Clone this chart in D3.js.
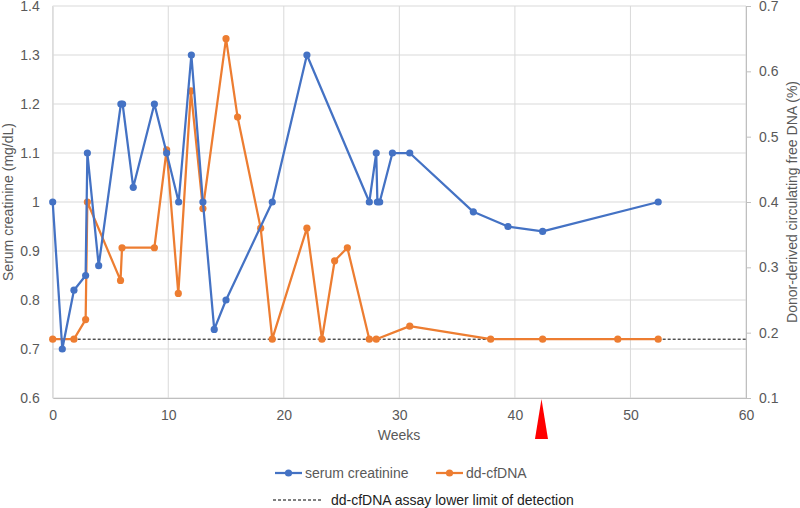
<!DOCTYPE html>
<html>
<head>
<meta charset="utf-8">
<script src="https://cdn.jsdelivr.net/npm/d3@7"></script>
<style>
  body { margin: 0; background: #fff; }
  text { font-family: "Liberation Sans", Arial, sans-serif; fill: #595959; }
</style>
</head>
<body>
<script>
// data
var creatWeeks = [0, 0.83, 1.84, 2.85, 3.0, 3.98, 5.9, 6.05, 6.97, 8.8, 9.86, 10.9, 12.0, 13.0, 13.98, 15.0, 19.0, 22.0, 27.4, 28.0, 28.1, 28.3, 29.4, 30.9, 36.4, 39.4, 42.4, 52.4];
var creatValues = [1.0, 0.70, 0.82, 0.85, 1.1, 0.87, 1.2, 1.2, 1.03, 1.2, 1.1, 1.0, 1.3, 1.0, 0.74, 0.8, 1.0, 1.3, 1.0, 1.1, 1.0, 1.0, 1.1, 1.1, 0.98, 0.95, 0.94, 1.0];
var dnaWeeks = [0, 1.84, 2.85, 3.0, 5.87, 6.0, 8.8, 9.86, 10.87, 11.96, 13.0, 15.0, 16.0, 18.0, 19.0, 22.0, 23.3, 24.4, 25.5, 27.4, 28.0, 30.9, 37.9, 42.4, 48.9, 52.4];
var dnaValues = [0.19, 0.19, 0.22, 0.40, 0.28, 0.33, 0.33, 0.48, 0.26, 0.57, 0.39, 0.65, 0.53, 0.36, 0.19, 0.36, 0.19, 0.31, 0.33, 0.19, 0.19, 0.21, 0.19, 0.19, 0.19, 0.19];
var detectionLimit = 0.19;
var markerWeek = 42.3;
var xTicks = [0, 10, 20, 30, 40, 50, 60];
var leftTicks = [0.6, 0.7, 0.8, 0.9, 1.0, 1.1, 1.2, 1.3, 1.4];
var rightTicks = [0.1, 0.2, 0.3, 0.4, 0.5, 0.6, 0.7];

var w = 800, h = 508;
var blue = "#4472C4", orange = "#ED7D31", grid = "#d9d9d9";

var x = d3.scaleLinear().domain([0, 60]).range([52.7, 746]);
var yL = d3.scaleLinear().domain([0.6, 1.4]).range([398, 6]);
var yR = d3.scaleLinear().domain([0.1, 0.7]).range([398, 6]);

var svg = d3.select("body").append("svg")
  .attr("width", w).attr("height", h);

// gridlines
svg.append("g").selectAll("line").data(leftTicks).enter().append("line")
  .attr("x1", x(0)).attr("x2", x(60))
  .attr("y1", function(d) { return yL(d); }).attr("y2", function(d) { return yL(d); })
  .attr("stroke", grid).attr("stroke-width", 1);
svg.append("g").selectAll("line").data(xTicks).enter().append("line")
  .attr("x1", function(d) { return x(d); }).attr("x2", function(d) { return x(d); })
  .attr("y1", yL(0.6)).attr("y2", yL(1.4))
  .attr("stroke", grid).attr("stroke-width", 1);

// axes
var fmt = function(d) { return d === 1 ? "1" : d3.format(".1f")(d); };
var xAxisG = svg.append("g").attr("transform", "translate(0," + yL(0.6) + ")")
  .call(d3.axisBottom(x).tickValues(xTicks).tickSize(0).tickPadding(12));
var yAxisG = svg.append("g").attr("transform", "translate(" + x(0) + ",0)")
  .call(d3.axisLeft(yL).tickValues(leftTicks).tickFormat(fmt).tickSize(0).tickPadding(13));
var rAxisG = svg.append("g").attr("transform", "translate(" + x(60) + ",0)")
  .call(d3.axisRight(yR).tickValues(rightTicks).tickFormat(d3.format(".1f")).tickSize(5).tickPadding(8));
[xAxisG, yAxisG, rAxisG].forEach(function(g) {
  g.selectAll("text").style("font-size", "14px").attr("fill", "#595959")
    .style("font-family", "Liberation Sans, Arial, sans-serif");
  g.select(".domain").attr("stroke", "#bfbfbf");
  g.selectAll(".tick line").attr("stroke", "#bfbfbf");
});
yAxisG.select(".domain").attr("stroke", grid);

// axis titles
svg.append("text").attr("x", 399).attr("y", 440).attr("text-anchor", "middle")
  .style("font-size", "14px").text("Weeks");
svg.append("text").attr("transform", "translate(13,202) rotate(-90)")
  .attr("text-anchor", "middle").style("font-size", "14px").text("Serum creatinine (mg/dL)");
svg.append("text").attr("transform", "translate(797,202) rotate(-90)")
  .attr("text-anchor", "middle").style("font-size", "14px").text("Donor-derived circulating free DNA (%)");

// detection limit
svg.append("line")
  .attr("x1", x(0)).attr("x2", x(60))
  .attr("y1", yR(detectionLimit)).attr("y2", yR(detectionLimit))
  .attr("stroke", "#000").attr("stroke-width", 1).attr("stroke-dasharray", "3,2");

// series
function drawSeries(xs, ys, yScale, color) {
  var pts = xs.map(function(d, i) { return [d, ys[i]]; });
  svg.append("path").datum(pts)
    .attr("fill", "none").attr("stroke", color).attr("stroke-width", 2.25)
    .attr("stroke-linejoin", "round")
    .attr("d", d3.line().x(function(d) { return x(d[0]); }).y(function(d) { return yScale(d[1]); }));
  svg.append("g").selectAll("circle").data(pts).enter().append("circle")
    .attr("cx", function(d) { return x(d[0]); })
    .attr("cy", function(d) { return yScale(d[1]); })
    .attr("r", 3.6).attr("fill", color);
}
drawSeries(dnaWeeks, dnaValues, yR, orange);
drawSeries(creatWeeks, creatValues, yL, blue);

// red marker triangle
var tx = x(markerWeek);
svg.append("path")
  .attr("d", "M" + tx + ",399 L" + (tx + 6.5) + ",439 L" + (tx - 6.5) + ",439 Z")
  .attr("fill", "#ff0000");

// legend
var legend = svg.append("g");
function legendItem(x0, y0, color, label) {
  legend.append("line").attr("x1", x0).attr("x2", x0 + 27).attr("y1", y0).attr("y2", y0)
    .attr("stroke", color).attr("stroke-width", 2.25);
  legend.append("circle").attr("cx", x0 + 13.5).attr("cy", y0).attr("r", 3.6).attr("fill", color);
  legend.append("text").attr("x", x0 + 30).attr("y", y0 + 5).style("font-size", "14px").text(label);
}
legendItem(275, 473, blue, "serum creatinine");
legendItem(436, 473, orange, "dd-cfDNA");
legend.append("line").attr("x1", 273).attr("x2", 321).attr("y1", 500).attr("y2", 500)
  .attr("stroke", "#000").attr("stroke-width", 1).attr("stroke-dasharray", "3,2");
legend.append("text").attr("x", 331).attr("y", 505).style("font-size", "14px")
  .style("fill", "#222").text("dd-cfDNA assay lower limit of detection");
</script>
</body>
</html>
